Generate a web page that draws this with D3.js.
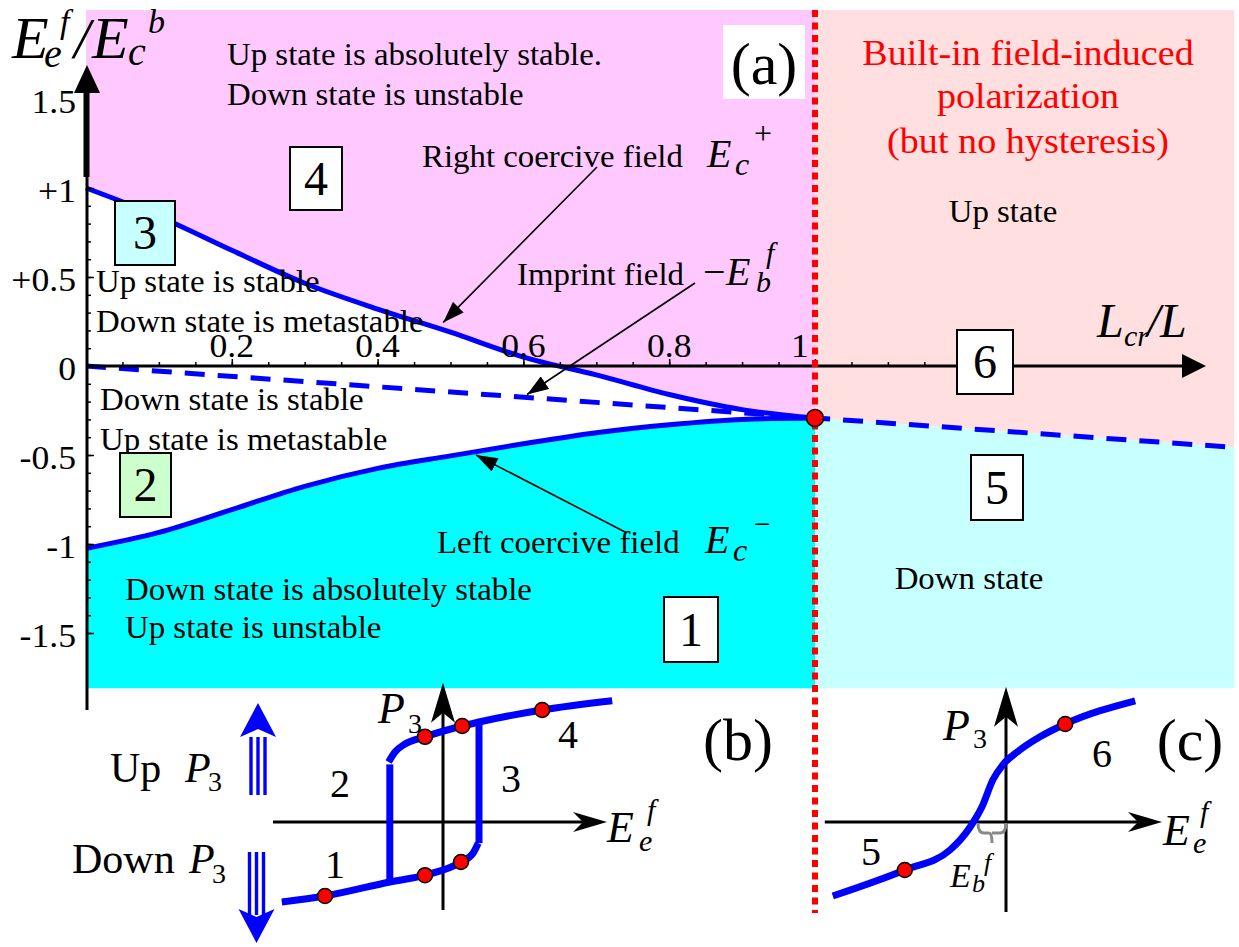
<!DOCTYPE html>
<html lang="en">
<head>
<meta charset="UTF-8">
<title>phase diagram</title>
<script src="https://cdn.jsdelivr.net/npm/d3@7"></script>
<style>
  body { margin: 0; background: #fff; }
  text { font-family: "Liberation Serif", "Times New Roman", serif; }
</style>
</head>
<body>
<script>
// ---- data (main diagram, a) ----
var ratio   = [0, 0.1, 0.2, 0.3, 0.4, 0.5, 0.6, 0.7, 0.8, 0.9, 1.0];      // Lcr/L
var ecPlus  = [1.0, 0.84, 0.65, 0.465, 0.32, 0.19, 0.05, -0.05, -0.16, -0.245, -0.292];
var ecMinus = [-1.025, -0.935, -0.807, -0.676, -0.575, -0.505, -0.437, -0.375, -0.33, -0.3, -0.292];
var imprintX = [0, 1, 1.575];
var imprintY = [0, -0.292, -0.457];
var xTicks = [0.2, 0.4, 0.6, 0.8, 1];
var xTickLabels = ['0.2', '0.4', '0.6', '0.8', '1'];
var yTicks = [1.5, 1, 0.5, 0, -0.5, -1, -1.5];
var yTickLabels = ['1.5', '+1', '+0.5', '0', '-0.5', '-1', '-1.5'];

// ---- data (inset b, hysteresis loop) ----
var lowE = [-4.03, -2.95, -1.33, -0.45, 0.45, 0.75, 0.88];
var lowP = [-2.0, -1.85, -1.5, -1.33, -1.0, -0.78, -0.53];
var upE  = [-1.36, -1.2, -0.95, -0.45, 0.48, 0.9, 2.48, 4.23];
var upP  = [1.5, 1.75, 1.95, 2.13, 2.4, 2.5, 2.8, 3.03];
var leftJumpE = -1.33, rightJumpE = 0.9;
var dotsBE = [-2.95, -0.45, 0.45, -0.45, 0.48, 2.48];
var dotsBP = [-1.85, -1.33, -1.0, 2.13, 2.4, 2.8];

// ---- data (inset c, single-valued curve) ----
var curveCE = [-4.33, -2.53, -1.4, -0.9, -0.6, -0.33, -0.08, 0.28, 0.85, 1.48, 3.23];
var curveCP = [-1.85, -1.2, -0.7, -0.13, 0.38, 1.05, 1.43, 1.75, 2.13, 2.45, 3.03];
var dotsCE = [-2.53, 1.48];
var dotsCP = [-1.2, 2.45];
var imprintC = -0.7;

var W = 1239, H = 947;
var svg = d3.select('body').append('svg').attr('width', W).attr('height', H);

var x = d3.scaleLinear().domain([0, 1]).range([86, 815]);
var y = d3.scaleLinear().domain([0, 1]).range([366, 188]);
var yTop = 2.0, yBot = -1.81;

var blue = '#0000ff';

function txt(px, py, s, size, o) {
  o = o || {};
  return svg.append('text')
    .attr('transform', 'translate(' + px + ',' + py + ') scale(' + (o.sx || 1) + ',1)')
    .attr('font-size', size)
    .attr('text-anchor', o.anchor || 'start')
    .attr('font-style', o.italic ? 'italic' : null)
    .attr('fill', o.fill || '#000')
    .text(s);
}

// region fills
var plusPts = ratio.map(function (r, i) { return [r, ecPlus[i]]; });
var minusPts = ratio.map(function (r, i) { return [r, ecMinus[i]]; });
var impPts = imprintX.map(function (r, i) { return [r, imprintY[i]]; });
var rightPts = impPts.slice(1);

svg.append('path')
  .attr('d', d3.area().x(function (d) { return x(d[0]); }).y0(y(yTop)).y1(function (d) { return y(d[1]); })
    .curve(d3.curveMonotoneX)(plusPts))
  .attr('fill', '#ffc8ff');
svg.append('path')
  .attr('d', d3.area().x(function (d) { return x(d[0]); }).y0(y(yBot)).y1(function (d) { return y(d[1]); })
    .curve(d3.curveMonotoneX)(minusPts))
  .attr('fill', '#00ffff');
svg.append('path')
  .attr('d', d3.area().x(function (d) { return x(d[0]); }).y0(y(yTop)).y1(function (d) { return y(d[1]); })(rightPts))
  .attr('fill', '#ffdfdf');
svg.append('path')
  .attr('d', d3.area().x(function (d) { return x(d[0]); }).y0(y(yBot)).y1(function (d) { return y(d[1]); })(rightPts))
  .attr('fill', '#c8ffff');

// curves
var line = d3.line().x(function (d) { return x(d[0]); }).y(function (d) { return y(d[1]); });
svg.append('path').attr('d', line.curve(d3.curveMonotoneX)(plusPts))
  .attr('fill', 'none').attr('stroke', blue).attr('stroke-width', 5);
svg.append('path').attr('d', line.curve(d3.curveMonotoneX)(minusPts))
  .attr('fill', 'none').attr('stroke', blue).attr('stroke-width', 5);
svg.append('path').attr('d', d3.line().x(function (d) { return x(d[0]); }).y(function (d) { return y(d[1]); })(impPts))
  .attr('fill', 'none').attr('stroke', blue).attr('stroke-width', 5).attr('stroke-dasharray', '20,13');

// axes
svg.append('line').attr('x1', 87).attr('x2', 87).attr('y1', 90).attr('y2', 710)
  .attr('stroke', '#000').attr('stroke-width', 3);
svg.append('line').attr('x1', 86.5).attr('x2', 86.5).attr('y1', 90).attr('y2', 177)
  .attr('stroke', '#000').attr('stroke-width', 6);
svg.append('path').attr('d', 'M87,65L100,93L74,93Z').attr('fill', '#000');
svg.append('line').attr('x1', 86).attr('x2', 1186).attr('y1', y(0)).attr('y2', y(0))
  .attr('stroke', '#000').attr('stroke-width', 3);
svg.append('path').attr('d', 'M1206,' + y(0) + 'L1182,' + (y(0) - 12) + 'L1182,' + (y(0) + 12) + 'Z').attr('fill', '#000');

function styleAxis(g) {
  g.select('.domain').remove();
  g.selectAll('.tick line').attr('stroke', '#000').attr('stroke-width', 1.5);
}
svg.append('g').attr('transform', 'translate(0,' + y(0) + ')')
  .call(d3.axisTop(x).tickValues(d3.range(1, 24).map(function (i) { return i * 0.05; })).tickSize(4).tickFormat(''))
  .call(styleAxis);
svg.append('g').attr('transform', 'translate(0,' + y(0) + ')')
  .call(d3.axisTop(x).tickValues(xTicks).tickSize(7).tickFormat(''))
  .call(styleAxis);
svg.append('g').attr('transform', 'translate(87,0)')
  .call(d3.axisRight(y).tickValues(d3.range(-15, 11).map(function (i) { return i / 10; })).tickSize(4).tickFormat(''))
  .call(styleAxis);
svg.append('g').attr('transform', 'translate(87,0)')
  .call(d3.axisRight(y).tickValues([-1.5, -1, -0.5, 0.5, 1]).tickSize(7).tickFormat(''))
  .call(styleAxis);

xTicks.forEach(function (v, i) {
  var px = v === 1 ? x(v) - 15 : x(v);
  txt(px, y(0) - 9, xTickLabels[i], 33, { anchor: 'middle', sx: 1.08 });
});
yTicks.forEach(function (v, i) {
  txt(76, y(v) + 14, yTickLabels[i], 33, { anchor: 'end', sx: 1.08 });
});

// red dotted boundary at Lcr/L = 1
svg.append('line').attr('x1', x(1)).attr('x2', x(1)).attr('y1', 10).attr('y2', 913)
  .attr('stroke', '#ff0000').attr('stroke-width', 6).attr('stroke-dasharray', '7,5.5');
svg.append('circle').attr('cx', x(1)).attr('cy', y(ecPlus[ecPlus.length - 1])).attr('r', 8.5)
  .attr('fill', '#ff0000').attr('stroke', '#000').attr('stroke-width', 1.5);

// annotation arrows
svg.append('defs').append('marker').attr('id', 'tri')
  .attr('viewBox', '0 -7 20 14').attr('refX', 20).attr('refY', 0)
  .attr('markerWidth', 22).attr('markerHeight', 15).attr('markerUnits', 'userSpaceOnUse')
  .attr('orient', 'auto')
  .append('path').attr('d', 'M0,-7L20,0L0,7Z').attr('fill', '#000');
[[597, 167, x(0.49), y(0.245)], [695, 283, x(0.605), y(-0.16)], [627, 533, x(0.535), y(-0.5)]].forEach(function (a) {
  svg.append('line').attr('x1', a[0]).attr('y1', a[1]).attr('x2', a[2]).attr('y2', a[3])
    .attr('stroke', '#000').attr('stroke-width', 1.6).attr('marker-end', 'url(#tri)');
});

// region texts
var S = 31, SX = 1.06;
txt(227, 65, 'Up state is absolutely stable.', S, { sx: SX });
txt(227, 105, 'Down state is unstable', S, { sx: SX });
txt(422, 167, 'Right coercive field', S, { sx: SX });
txt(517, 285, 'Imprint field', S, { sx: SX });
txt(96, 292, 'Up state is stable', S, { sx: SX });
txt(96, 332, 'Down state is metastable', S, { sx: SX });
txt(100, 410, 'Down state is stable', S, { sx: SX });
txt(100, 450, 'Up state is metastable', S, { sx: SX });
txt(125, 600, 'Down state is absolutely stable', S, { sx: SX });
txt(125, 638, 'Up state is unstable', S, { sx: SX });
txt(437, 553, 'Left coercive field', S, { sx: SX });
txt(1003, 222, 'Up state', S, { sx: SX, anchor: 'middle' });
txt(969, 589, 'Down state', S, { sx: SX, anchor: 'middle' });
txt(1028, 65, 'Built-in field-induced', 36, { sx: SX, anchor: 'middle', fill: '#ff0000' });
txt(1028, 108, 'polarization', 36, { sx: SX, anchor: 'middle', fill: '#ff0000' });
txt(1028, 153, '(but no hysteresis)', 36, { sx: SX, anchor: 'middle', fill: '#ff0000' });

// math labels
var I = { italic: true };
txt(12, 58, 'E', 60, I); txt(44, 67, 'e', 40, I); txt(60, 33, 'f', 34, I);
txt(74, 58, '/', 58, I); txt(92, 58, 'E', 60, I); txt(128, 65, 'c', 40, I); txt(148, 33, 'b', 34, I);
txt(707, 167, 'E', 40, I); txt(735, 175, 'c', 32, I); txt(754, 144, '+', 32);
txt(703, 285, '\u2212', 40); txt(726, 285, 'E', 40, I); txt(756, 292, 'b', 30, I); txt(766, 263, 'f', 30, I);
txt(705, 553, 'E', 40, I); txt(733, 561, 'c', 32, I); txt(754, 534, '\u2212', 30);
txt(1097, 337, 'L', 48, I); txt(1124, 346, 'cr', 30, I); txt(1147, 337, '/', 48, I); txt(1160, 337, 'L', 48, I);

// numbered boxes
function box(cx, cy, w, h, label, fill) {
  svg.append('rect').attr('x', cx - w / 2).attr('y', cy - h / 2).attr('width', w).attr('height', h)
    .attr('fill', fill || '#fff').attr('stroke', '#000').attr('stroke-width', 2);
  txt(cx, cy + 16, label, 48, { anchor: 'middle' });
}
box(316, 178.5, 52, 63, '4');
box(145, 233, 60, 64, '3', '#c8ffff');
box(145.5, 485, 51, 64, '2', '#ccffcc');
box(691, 629.5, 54, 65, '1');
box(997, 487.5, 52, 65, '5');
box(985, 362, 56, 64, '6');
svg.append('rect').attr('x', 723).attr('y', 25).attr('width', 82).attr('height', 74).attr('fill', '#fff');
txt(764, 84, '(a)', 60, { anchor: 'middle' });

// ---- inset helpers ----
function arrowHead(tx, ty, dir, len, half, notch) {
  var d;
  if (dir === 'up') d = 'M' + tx + ',' + ty + 'L' + (tx + half) + ',' + (ty + len) + 'L' + tx + ',' + (ty + len - notch) + 'L' + (tx - half) + ',' + (ty + len) + 'Z';
  else d = 'M' + tx + ',' + ty + 'L' + (tx - len) + ',' + (ty - half) + 'L' + (tx - len + notch) + ',' + ty + 'L' + (tx - len) + ',' + (ty + half) + 'Z';
  svg.append('path').attr('d', d).attr('fill', '#000');
}
function insetAxes(sx, sy, e0, e1, p0, p1) {
  svg.append('line').attr('x1', sx(e0)).attr('x2', sx(e1) - 20).attr('y1', sy(0)).attr('y2', sy(0))
    .attr('stroke', '#000').attr('stroke-width', 3);
  svg.append('line').attr('x1', sx(0)).attr('x2', sx(0)).attr('y1', sy(p0)).attr('y2', sy(p1) + 20)
    .attr('stroke', '#000').attr('stroke-width', 3);
  arrowHead(sx(e1), sy(0), 'right', 34, 10, 10);
  arrowHead(sx(0), sy(p1), 'up', 40, 12, 10);
}
function dots(sx, sy, es, ps) {
  es.forEach(function (e, i) {
    svg.append('circle').attr('cx', sx(e)).attr('cy', sy(ps[i])).attr('r', 7.5)
      .attr('fill', '#ff0000').attr('stroke', '#000').attr('stroke-width', 1.5);
  });
}

// ---- inset (b) ----
var bx = d3.scaleLinear().domain([0, 1]).range([443, 483]);
var by = d3.scaleLinear().domain([0, 1]).range([822, 782]);
insetAxes(bx, by, -4.25, 4.1, -2.2, 3.48);
var bLine = d3.line().x(function (d) { return bx(d[0]); }).y(function (d) { return by(d[1]); }).curve(d3.curveMonotoneX);
function loopPath(d, curve) {
  svg.append('path').attr('d', (curve ? bLine : d3.line().x(function (p) { return bx(p[0]); }).y(function (p) { return by(p[1]); }))(d))
    .attr('fill', 'none').attr('stroke', blue).attr('stroke-width', 7);
}
loopPath(lowE.map(function (e, i) { return [e, lowP[i]]; }), true);
loopPath(upE.map(function (e, i) { return [e, upP[i]]; }), true);
loopPath([[leftJumpE, lowP[2] + 0.05], [leftJumpE, upP[0] - 0.06]], false);
loopPath([[rightJumpE, lowP[lowP.length - 1]], [rightJumpE, upP[5] + 0.05]], false);
dots(bx, by, dotsBE, dotsBP);

txt(378, 723, 'P', 44, I); txt(408, 733, '3', 28);
txt(607, 842, 'E', 44, I); txt(639, 851, 'e', 30, I); txt(647, 820, 'f', 30, I);
txt(340, 797, '2', 40, { anchor: 'middle' });
txt(335, 878, '1', 40, { anchor: 'middle' });
txt(511, 792, '3', 40, { anchor: 'middle' });
txt(568, 748, '4', 40, { anchor: 'middle' });
txt(738, 760, '(b)', 60, { anchor: 'middle' });

// Up / Down arrows
function bigArrow(cx, y0, y1, up) {
  [-7, 0, 7].forEach(function (o) {
    svg.append('line').attr('x1', cx + o).attr('x2', cx + o).attr('y1', y0).attr('y2', y1)
      .attr('stroke', blue).attr('stroke-width', 3.4);
  });
  var tip = up ? y0 - 34 : y1 + 28, base = up ? y0 : y1 - 6, notch = up ? y0 - 8 : y1 + 2;
  svg.append('path').attr('d', 'M' + cx + ',' + tip + 'L' + (cx + 18) + ',' + base + 'L' + cx + ',' + notch + 'L' + (cx - 18) + ',' + base + 'Z')
    .attr('fill', blue);
}
bigArrow(258, 737, 795, true);
bigArrow(256.5, 852, 915, false);
txt(110, 782, 'Up', 42); txt(185, 782, 'P', 42, I); txt(208, 791, '3', 28);
txt(72, 873, 'Down', 42); txt(189, 873, 'P', 42, I); txt(212, 883, '3', 28);

// ---- inset (c) ----
var cx = d3.scaleLinear().domain([0, 1]).range([1006, 1046]);
var cy = d3.scaleLinear().domain([0, 1]).range([822, 782]);
insetAxes(cx, cy, -4.53, 3.9, -2.25, 3.38);
svg.append('path')
  .attr('d', d3.line().x(function (d) { return cx(d[0]); }).y(function (d) { return cy(d[1]); }).curve(d3.curveMonotoneX)(curveCE.map(function (e, i) { return [e, curveCP[i]]; })))
  .attr('fill', 'none').attr('stroke', blue).attr('stroke-width', 7);
dots(cx, cy, dotsCE, dotsCP);
var b0 = cx(imprintC), b1 = cx(0), bm = (b0 + b1) / 2, by0 = cy(0) + 1;
svg.append('path')
  .attr('d', 'M' + b0 + ',' + by0 + 'Q' + b0 + ',' + (by0 + 10) + ' ' + (b0 + 6) + ',' + (by0 + 10) +
    'L' + (bm - 3) + ',' + (by0 + 10) + 'Q' + bm + ',' + (by0 + 10) + ' ' + bm + ',' + (by0 + 20) +
    'M' + bm + ',' + (by0 + 10) + 'Q' + bm + ',' + (by0 + 10) + ' ' + (bm + 3) + ',' + (by0 + 10) +
    'L' + (b1 - 6) + ',' + (by0 + 10) + 'Q' + b1 + ',' + (by0 + 10) + ' ' + b1 + ',' + by0)
  .attr('fill', 'none').attr('stroke', '#888').attr('stroke-width', 3);
txt(943, 740, 'P', 44, I); txt(973, 748, '3', 28);
txt(1163, 845, 'E', 44, I); txt(1193, 853, 'e', 30, I); txt(1200, 822, 'f', 30, I);
txt(950, 887, 'E', 34, I); txt(972, 892, 'b', 26, I); txt(984, 871, 'f', 26, I);
txt(871, 865, '5', 40, { anchor: 'middle' });
txt(1102, 767, '6', 40, { anchor: 'middle' });
txt(1190, 760, '(c)', 60, { anchor: 'middle' });
</script>
</body>
</html>
